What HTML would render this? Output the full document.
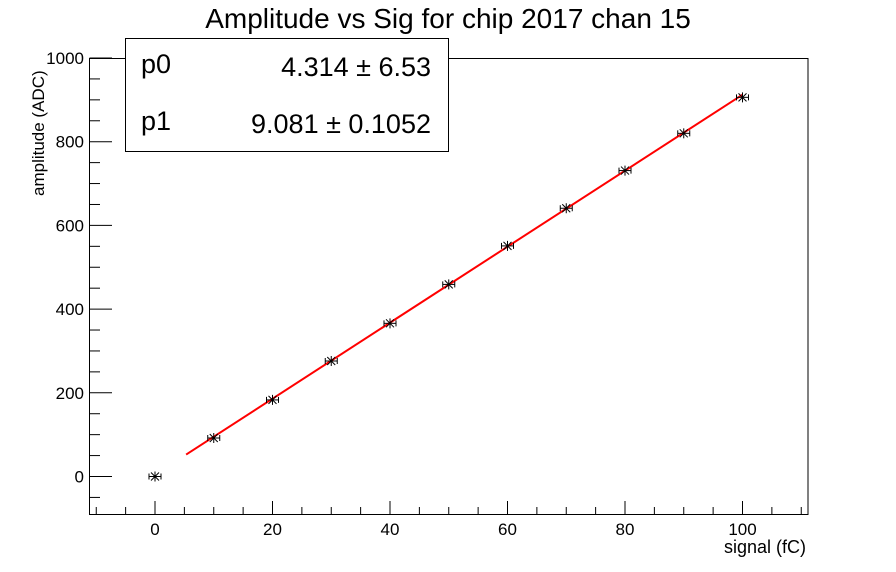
<!DOCTYPE html>
<html><head><style>body{margin:0;background:#fff}svg{display:block}text{font-family:"Liberation Sans",sans-serif}</style></head><body>
<svg width="896" height="572" viewBox="0 0 896 572">
<rect x="0" y="0" width="896" height="572" fill="#fff"/>
<text x="448" y="28" font-size="28" text-anchor="middle">Amplitude vs Sig for chip 2017 chan 15</text>
<rect x="89.5" y="58.5" width="718.5" height="456" fill="none" stroke="#000" stroke-width="1"/>
<g id="ax" stroke="#000" stroke-width="1"></g>
<g id="lab" font-size="17"></g>
<text x="806" y="553" font-size="18" text-anchor="end">signal (fC)</text>
<text transform="translate(44,196) rotate(-90)" font-size="17" text-anchor="start">amplitude (ADC)</text>
<polyline id="fit" fill="none" stroke="#f00" stroke-width="2"/>
<g id="pts" stroke="#000" stroke-width="1" fill="none"></g>
<rect x="125.5" y="38.5" width="323" height="113" fill="#fff" stroke="#000" stroke-width="1"/>
<text x="141" y="73" font-size="27">p0</text>
<text x="431" y="76" font-size="27" text-anchor="end">4.314 ±  6.53</text>
<text x="141" y="130" font-size="27">p1</text>
<text x="431" y="133" font-size="27" text-anchor="end">9.081 ± 0.1052</text>
</svg>
<script>
const X=v=>155+v*5.875, Y=v=>476.5-v*0.4185;
let a='',l='';
for(let v=-10;v<=110;v+=5){const x=X(v);const m=v%20==0;a+=`<line x1="${x}" x2="${x}" y1="514" y2="${m?501:507}"/>`;if(m)l+=`<text x="${x}" y="535" text-anchor="middle">${v}</text>`;}
for(let v=-50;v<=1000;v+=50){const y=Y(v);const m=v%200==0;a+=`<line x1="89.5" x2="${m?112:100}" y1="${y}" y2="${y}"/>`;if(m)l+=`<text x="84" y="${y+6}" text-anchor="end">${v}</text>`;}
document.getElementById('ax').innerHTML=a;document.getElementById('lab').innerHTML=l;
document.getElementById('fit').setAttribute('points',`${X(5.3)},${Y(4.314+9.081*5.3)} ${X(100)},${Y(4.314+908.1)}`);
const d=[[0,0],[10,92],[20,183],[30,276],[40,366],[50,459],[60,551],[70,641],[80,731],[90,820],[100,906]];
let p='';for(const[u,w]of d){const x=X(u),y=Y(w);p+=`<line x1="${x-6}" x2="${x+6}" y1="${y}" y2="${y}"/><line x1="${x-6}" x2="${x-6}" y1="${y-3}" y2="${y+3}"/><line x1="${x+6}" x2="${x+6}" y1="${y-3}" y2="${y+3}"/><line x1="${x}" x2="${x}" y1="${y-5}" y2="${y+5}"/><line x1="${x-4}" x2="${x+4}" y1="${y-4}" y2="${y+4}"/><line x1="${x-4}" x2="${x+4}" y1="${y+4}" y2="${y-4}"/>`;}
document.getElementById('pts').innerHTML=p;
</script>
</body></html>
